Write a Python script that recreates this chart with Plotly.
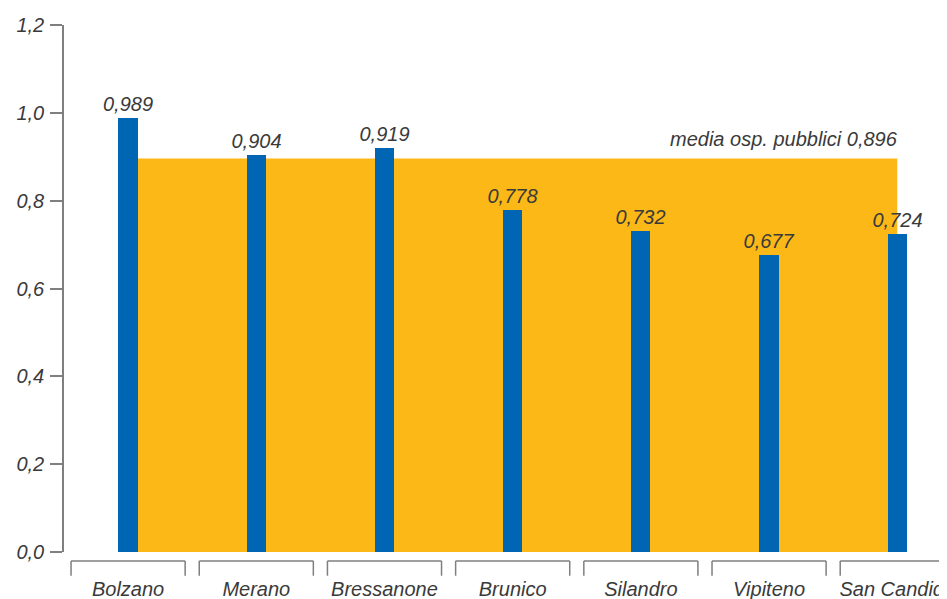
import plotly.graph_objects as go

categories = ["Bolzano", "Merano", "Bressanone", "Brunico", "Silandro", "Vipiteno", "San Candido"]
values = [0.989, 0.904, 0.919, 0.778, 0.732, 0.677, 0.724]
media_label = "media osp. pubblici"
media_value = 0.896
y_ticks = [0.0, 0.2, 0.4, 0.6, 0.8, 1.0, 1.2]

FONT = "Liberation Sans, Arial, sans-serif"
TXT = "#3a3a3a"
AX = "#7f7f7f"
BLUE = "#0066b3"
ORANGE = "#fbb817"
FS = 20

x = list(range(len(categories)))

fig = go.Figure()
fig.add_trace(go.Bar(
    x=x, y=values, width=0.15, marker=dict(color=BLUE, line=dict(width=0)),
    text=values, texttemplate="%{y:.3f}", textposition="outside",
    constraintext="none",
    textfont=dict(family=FONT, size=FS, color=TXT, style="italic"),
    cliponaxis=False, hoverinfo="skip",
))

# media area
fig.add_shape(type="rect", xref="x", yref="y", x0=x[0], x1=x[-1], y0=0, y1=media_value,
              fillcolor=ORANGE, line=dict(width=0), layer="below")
media_txt = media_label + " " + f"{media_value:.3f}".replace(".", ",")
fig.add_annotation(x=x[-1], y=media_value, xref="x", yref="y", xanchor="right", yanchor="bottom",
                   text=media_txt, showarrow=False, yshift=7, xshift=3,
                   font=dict(family=FONT, size=FS, color=TXT, style="italic"))

# brackets under categories
for xi in x:
    a, b = xi - 0.445, xi + 0.445
    y0, y1 = -0.017, -0.045
    fig.add_shape(type="line", xref="x", yref="paper", x0=a, x1=b, y0=y0, y1=y0,
                  line=dict(color=AX, width=1.5))
    fig.add_shape(type="line", xref="x", yref="paper", x0=a, x1=a, y0=y0, y1=y1,
                  line=dict(color=AX, width=1.5))
    fig.add_shape(type="line", xref="x", yref="paper", x0=b, x1=b, y0=y0, y1=y1,
                  line=dict(color=AX, width=1.5))

fig.update_layout(
    width=939, height=591,
    margin=dict(l=56, r=0, t=17, b=47),
    paper_bgcolor="white", plot_bgcolor="white",
    separators=",.",
    showlegend=False,
    bargap=0,
    xaxis=dict(
        range=[-0.5, 6.388], tickmode="array", tickvals=x, ticktext=categories,
        showgrid=False, zeroline=False, showline=False, ticks="",
        ticklabelstandoff=23, automargin=False, ticklabeloverflow="allow",
        tickfont=dict(family=FONT, size=FS, color=TXT, style="italic"),
    ),
    yaxis=dict(
        range=[0, 1.2], tickvals=y_ticks, tickformat=".1f",
        showgrid=False, zeroline=False, showline=True, linecolor=AX, linewidth=1.5,
        ticks="outside", ticklen=12, tickcolor=AX, tickwidth=1.5,
        ticklabelstandoff=2, automargin=False,
        tickfont=dict(family=FONT, size=FS, color=TXT, style="italic"),
    ),
)

fig.write_html("out.html")
